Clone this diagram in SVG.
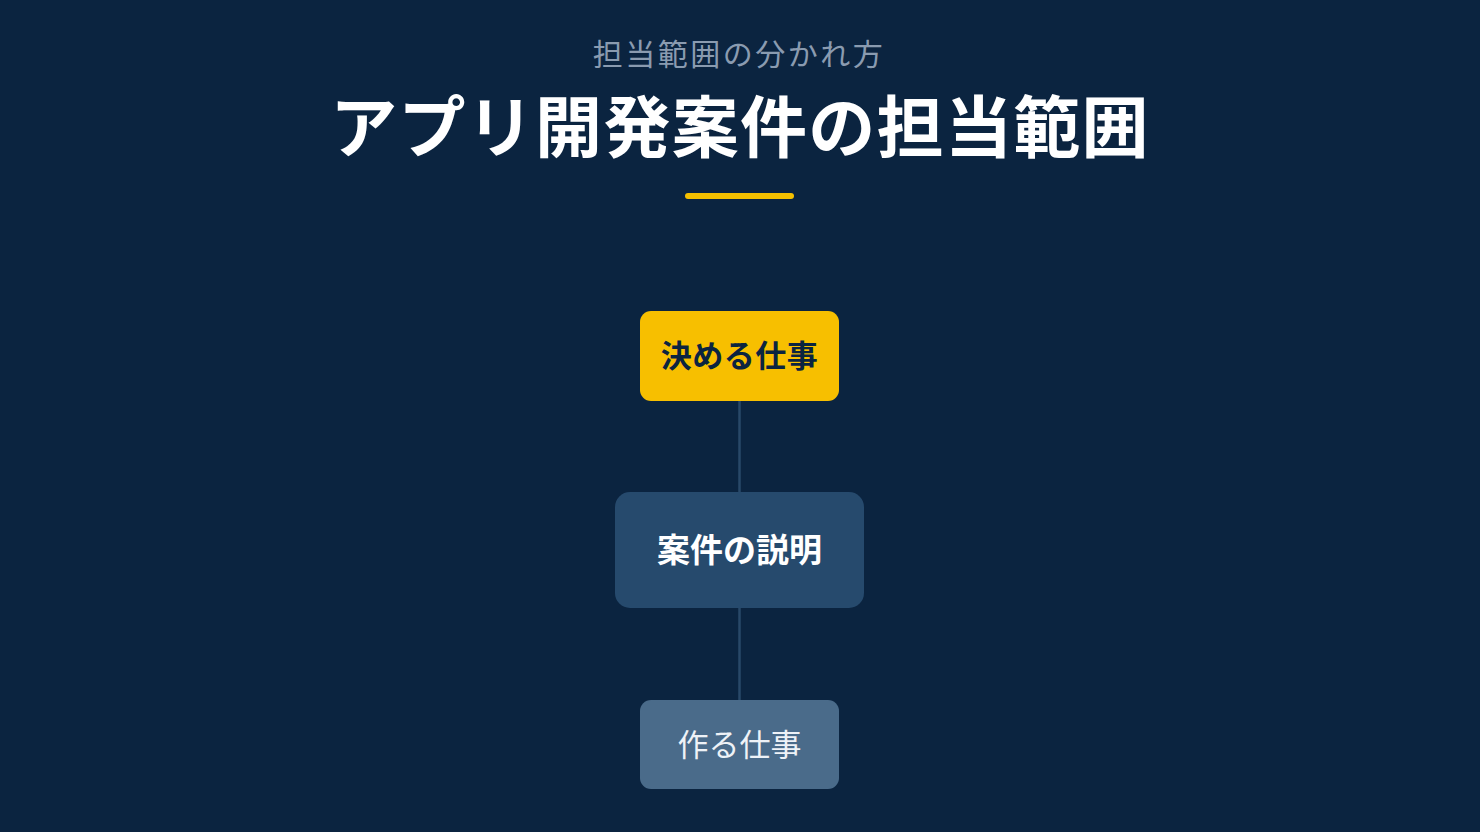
<svg xmlns="http://www.w3.org/2000/svg" width="1480" height="832" viewBox="0 0 1480 832">
<style>
text{font-family:"Noto Sans CJK JP","Noto Sans",sans-serif;text-anchor:middle}
.conn{stroke:#294868;stroke-width:2.5;fill:none}
</style>
<rect width="1480" height="832" fill="#0b2440"/>
<g id="header">
<text x="739" y="65" font-size="30" fill="#8a9bb0" letter-spacing="2.5">担当範囲の分かれ方</text>
<text x="740" y="152" font-size="67" font-weight="700" fill="#ffffff" letter-spacing="1.3">アプリ開発案件の担当範囲</text>
<rect x="685" y="193" width="109" height="6" rx="3" fill="#f5c000"/>
</g>
<g id="connectors">
<line class="conn" x1="739.5" y1="401" x2="739.5" y2="492"/>
<line class="conn" x1="739.5" y1="608" x2="739.5" y2="700"/>
</g>
<g id="node-decide">
<rect x="640" y="311" width="199" height="90" rx="11" fill="#f7bf00"/>
<text x="739.5" y="367" font-size="31" font-weight="700" fill="#0b2440" letter-spacing="0.5">決める仕事</text>
</g>
<g id="node-explain">
<rect x="615" y="492" width="249" height="116" rx="15" fill="#264a6d"/>
<text x="739.5" y="562" font-size="33" font-weight="700" fill="#ffffff">案件の説明</text>
</g>
<g id="node-build">
<rect x="640" y="700" width="199" height="89" rx="11" fill="#4a6b8a"/>
<text x="739.5" y="756" font-size="31" fill="#eef2f7">作る仕事</text>
</g>
</svg>
